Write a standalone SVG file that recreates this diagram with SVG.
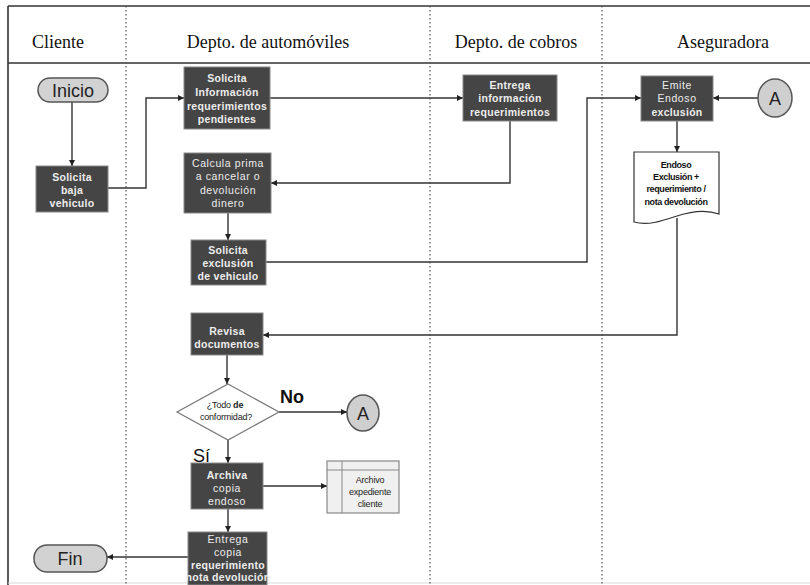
<svg xmlns="http://www.w3.org/2000/svg" width="810" height="585" viewBox="0 0 810 585">
<defs>
<marker id="arr" viewBox="0 0 10 10" refX="10" refY="5" markerWidth="7" markerHeight="6" orient="auto" markerUnits="userSpaceOnUse">
<path d="M0,0 L10,5 L0,10 Z" fill="#222"/>
</marker>
<style>
.hdr{font-family:"Liberation Serif","Times New Roman",serif;font-size:18px;fill:#111;text-anchor:middle}
.lane{stroke:#555;stroke-width:1.2;stroke-dasharray:1.5 2.5;fill:none}
.frame{stroke:#333;stroke-width:1.6;fill:none}
.proc{fill:#454545;stroke:#8a8a8a;stroke-width:1}
.pt{font-family:"Liberation Sans",Arial,sans-serif;font-size:10.5px;font-weight:bold;fill:#ededed;text-anchor:middle;letter-spacing:0.3px}
.ptn{font-family:"Liberation Sans",Arial,sans-serif;font-size:10.5px;fill:#ededed;text-anchor:middle;letter-spacing:0.6px}
.term{fill:#d2d2d2;stroke:#555;stroke-width:1.5}
.tt{font-family:"Liberation Sans",Arial,sans-serif;font-size:18px;fill:#222;text-anchor:middle}
.conn{fill:#cfcfcf;stroke:#555;stroke-width:1.5}
.ct{font-family:"Liberation Sans",Arial,sans-serif;font-size:18px;fill:#222;text-anchor:middle}
.doc{fill:#fff;stroke:#333;stroke-width:1.2}
.dt{font-family:"Liberation Sans",Arial,sans-serif;font-size:9px;font-weight:bold;fill:#111;text-anchor:middle;letter-spacing:-0.4px}
.st{font-family:"Liberation Sans",Arial,sans-serif;font-size:9px;fill:#222;text-anchor:middle;letter-spacing:-0.2px}
.lbl{font-family:"Liberation Sans",Arial,sans-serif;font-size:18px;fill:#111}
.edge{fill:none;stroke:#333;stroke-width:1.4;marker-end:url(#arr)}
</style>
</defs>
<rect width="810" height="585" fill="#fff"/>
<g id="pool">
<line class="frame" x1="8" y1="6" x2="810" y2="6"/>
<line class="frame" x1="8" y1="63" x2="810" y2="63"/>
<line class="frame" x1="8" y1="6" x2="8" y2="585"/>
<line x1="8" y1="583" x2="810" y2="583" stroke="#d8d8d8" stroke-width="1"/>
<line class="lane" x1="126" y1="6" x2="126" y2="585"/>
<line class="lane" x1="430" y1="6" x2="430" y2="585"/>
<line class="lane" x1="602" y1="6" x2="602" y2="585"/>
<text class="hdr" x="58" y="48">Cliente</text>
<text class="hdr" x="268" y="48">Depto. de automóviles</text>
<text class="hdr" x="516" y="48">Depto. de cobros</text>
<text class="hdr" x="723" y="48">Aseguradora</text>
</g>
<g id="connectors">
<path class="edge" d="M72,102 V166"/>
<path class="edge" d="M108,188 H146 V98 H184"/>
<path class="edge" d="M270,98 H463"/>
<path class="edge" d="M510,121 V183 H271"/>
<path class="edge" d="M228,213 V240"/>
<path class="edge" d="M266,262 H587 V98 H641"/>
<path class="edge" d="M758,98 H713"/>
<path class="edge" d="M677,121 V152"/>
<path class="edge" d="M677,218 V335 H263"/>
<path class="edge" d="M227,355 V384"/>
<path class="edge" d="M279,412 H347"/>
<path class="edge" d="M228,440 V463"/>
<path class="edge" d="M263,486 H327"/>
<path class="edge" d="M228,509 V532"/>
<path class="edge" d="M188,557 H107"/>
</g>
<g id="inicio">
<rect class="term" x="38" y="78" width="70" height="24" rx="12"/>
<text class="tt" x="73" y="96.5">Inicio</text>
</g>
<g id="solicita-baja">
<rect class="proc" x="36" y="166" width="72" height="46"/>
<text class="pt" x="72" y="181">Solicita</text>
<text class="pt" x="72" y="194">baja</text>
<text class="pt" x="72" y="207">vehiculo</text>
</g>
<g id="solicita-info">
<rect class="proc" x="184" y="67" width="86" height="62"/>
<text class="pt" x="227" y="82">Solicita</text>
<text class="pt" x="227" y="96">Información</text>
<text class="pt" x="227" y="110">requerimientos</text>
<text class="pt" x="227" y="123">pendientes</text>
</g>
<g id="calcula-prima">
<rect class="proc" x="184" y="153" width="87" height="60"/>
<text class="ptn" x="228" y="167">Calcula prima</text>
<text class="ptn" x="228" y="180">a cancelar o</text>
<text class="ptn" x="228" y="194">devolución</text>
<text class="ptn" x="228" y="207">dinero</text>
</g>
<g id="solicita-exclusion">
<rect class="proc" x="191" y="240" width="75" height="45"/>
<text class="pt" x="228" y="253.5">Solicita</text>
<text class="pt" x="228" y="266.5">exclusión</text>
<text class="pt" x="228" y="279.5">de vehiculo</text>
</g>
<g id="entrega-info">
<rect class="proc" x="463" y="75" width="94" height="46"/>
<text class="pt" x="510" y="89">Entrega</text>
<text class="pt" x="510" y="102">información</text>
<text class="pt" x="510" y="116">requerimientos</text>
</g>
<g id="emite-endoso">
<rect class="proc" x="641" y="76" width="72" height="45"/>
<text class="ptn" x="677" y="89">Emite</text>
<text class="ptn" x="677" y="102">Endoso</text>
<text class="pt" x="677" y="116">exclusión</text>
</g>
<g id="conector-a1">
<ellipse class="conn" cx="775" cy="98" rx="17" ry="19"/>
<text class="ct" x="775" y="104.5">A</text>
</g>
<g id="documento">
<path class="doc" d="M634,152 H719 V214 C705,209 692,211 677,216 C662,221 648,226 634,222 Z"/>
<text class="dt" x="676" y="168">Endoso</text>
<text class="dt" x="676" y="180">Exclusión +</text>
<text class="dt" x="676" y="192">requerimiento /</text>
<text class="dt" x="676" y="205">nota devolución</text>
</g>
<g id="revisa-documentos">
<rect class="proc" x="191" y="313" width="72" height="42"/>
<text class="pt" x="227" y="335">Revisa</text>
<text class="pt" x="227" y="348">documentos</text>
</g>
<g id="decision">
<polygon points="228,384 279,412 228,440 177,412" fill="#fff" stroke="#777" stroke-width="1.2"/>
<text class="st" x="225" y="408">¿Todo <tspan font-weight="bold">de</tspan></text>
<text class="st" x="226" y="420">conformidad?</text>
<text class="lbl" x="280" y="403" font-weight="bold">No</text>
<text class="lbl" x="193" y="462">Sí</text>
</g>
<g id="conector-a2">
<ellipse class="conn" cx="363" cy="413" rx="16" ry="18"/>
<text class="ct" x="363" y="419.5">A</text>
</g>
<g id="archiva-copia">
<rect class="proc" x="191" y="463" width="72" height="46"/>
<text class="pt" x="227" y="479">Archiva</text>
<text class="ptn" x="227" y="492">copia</text>
<text class="ptn" x="227" y="505">endoso</text>
</g>
<g id="archivo-expediente">
<rect x="327" y="461" width="72" height="52" fill="#f0f0f0" stroke="#888" stroke-width="1.2"/>
<line x1="342" y1="461" x2="342" y2="513" stroke="#888" stroke-width="1"/>
<line x1="327" y1="470" x2="399" y2="470" stroke="#888" stroke-width="1"/>
<text class="st" x="370" y="483">Archivo</text>
<text class="st" x="370" y="495">expediente</text>
<text class="st" x="370" y="507">cliente</text>
</g>
<g id="entrega-copia">
<rect class="proc" x="188" y="532" width="79" height="53"/>
<text class="ptn" x="228" y="543" font-size="10">Entrega</text>
<text class="ptn" x="228" y="556" font-size="10">copia</text>
<text class="pt" x="228" y="569" font-size="10" letter-spacing="0">requerimiento</text>
<text class="pt" x="228" y="581" font-size="10" letter-spacing="0">nota devolución</text>
</g>
<g id="fin">
<rect class="term" x="34" y="545" width="73" height="27" rx="13"/>
<text class="tt" x="70" y="565">Fin</text>
</g>
</svg>
